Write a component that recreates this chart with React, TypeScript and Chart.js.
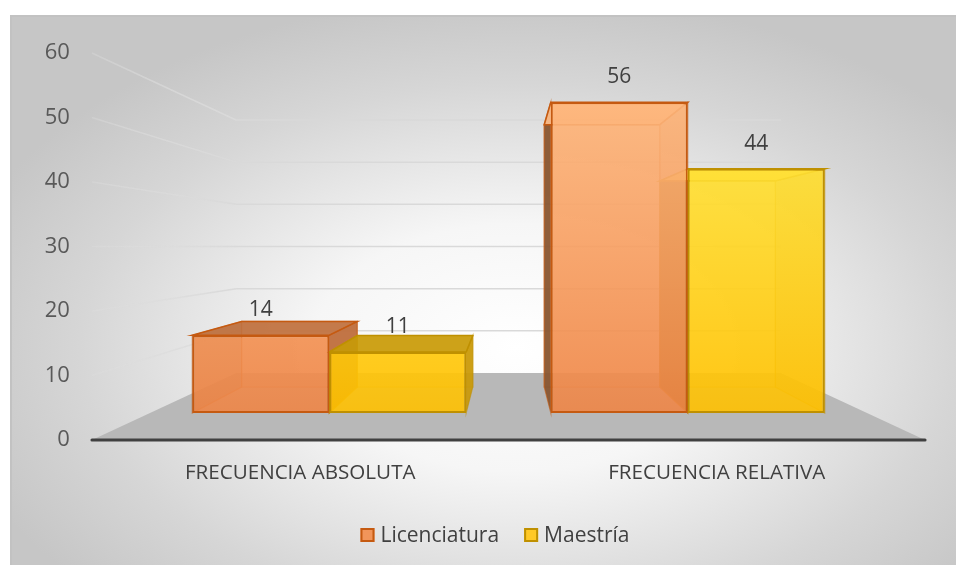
import React, { useEffect, useRef } from "react";
import { Chart, registerables } from "chart.js";
Chart.register(...registerables);

const categories = ["FRECUENCIA ABSOLUTA", "FRECUENCIA RELATIVA"];
const seriesNames = ["Licenciatura", "Maestría"];
const licenciatura = [14, 56];
const maestria = [11, 44];
const yTicks = [0, 10, 20, 30, 40, 50, 60];

const FONT = "'Open Sans', 'Noto Sans', sans-serif";
// depth factors of the 3D view (relative to the bars' front plane)
const K_FRONT = 1.162;
const K_BACK = 0.844;
const K_WALL = 0.76;

type RGB = [number, number, number];
const palette: { top: RGB; bottom: RGB; border: string; legendFill: string }[] = [
  { top: [255, 186, 128], bottom: [238, 133, 70], border: "#C55A11", legendFill: "#F1955A" },
  { top: [255, 235, 72], bottom: [255, 192, 0], border: "#BF9000", legendFill: "#FFC926" },
];

const rgba = (c: RGB, a: number) => `rgba(${c[0]},${c[1]},${c[2]},${a})`;
const mix = (c: RGB, t: RGB, f: number): RGB => [
  Math.round(c[0] + (t[0] - c[0]) * f),
  Math.round(c[1] + (t[1] - c[1]) * f),
  Math.round(c[2] + (t[2] - c[2]) * f),
];

function proj(ca: any, x: number, y: number, k: number): [number, number] {
  const vx = (ca.left + ca.right) / 2;
  const vy = (ca.top + ca.bottom) / 2;
  return [vx + k * (x - vx), vy + k * (y - vy)];
}

function poly(ctx: CanvasRenderingContext2D, pts: [number, number][]) {
  ctx.beginPath();
  ctx.moveTo(pts[0][0], pts[0][1]);
  for (let i = 1; i < pts.length; i++) ctx.lineTo(pts[i][0], pts[i][1]);
  ctx.closePath();
}

function colorAt(ca: any, c: { top: RGB; bottom: RGB }, y: number): RGB {
  const f = Math.min(1, Math.max(0, (y - ca.top) / (ca.bottom - ca.top)));
  return mix(c.top, c.bottom, f);
}

const threeD = {
  id: "threeD",
  beforeDatasetsDraw(chart: any) {
    const ctx: CanvasRenderingContext2D = chart.ctx;
    const ca = chart.chartArea;
    const ys = chart.scales.y;
    const xs = chart.scales.x;
    const y0 = ys.getPixelForValue(0);
    ctx.save();

    // walls gridlines
    ctx.lineWidth = 1.5;
    for (const v of yTicks) {
      if (v === 0) continue;
      const y = ys.getPixelForValue(v);
      const a = proj(ca, ca.left, y, K_FRONT);
      const b = proj(ca, ca.left, y, K_WALL);
      const c = proj(ca, ca.right, y, K_WALL);
      const g = ctx.createLinearGradient(a[0], a[1], b[0], b[1]);
      g.addColorStop(0, "rgba(222,222,222,0.35)");
      g.addColorStop(1, "rgba(217,217,217,1)");
      ctx.strokeStyle = g;
      ctx.beginPath();
      ctx.moveTo(a[0], a[1]);
      ctx.lineTo(b[0], b[1]);
      ctx.stroke();
      ctx.strokeStyle = "#d9d9d9";
      ctx.beginPath();
      ctx.moveTo(b[0], b[1]);
      ctx.lineTo(c[0], c[1]);
      ctx.stroke();
    }

    // floor
    const fl = proj(ca, ca.left, y0, K_FRONT);
    const fr = proj(ca, ca.right, y0, K_FRONT);
    const br = proj(ca, ca.right, y0, K_WALL);
    const bl = proj(ca, ca.left, y0, K_WALL);
    ctx.fillStyle = "#b8b8b8";
    poly(ctx, [fl, fr, br, bl]);
    ctx.fill();

    // axis line
    ctx.strokeStyle = "#404040";
    ctx.lineWidth = 3;
    ctx.lineCap = "round";
    ctx.beginPath();
    ctx.moveTo(fl[0], fl[1]);
    ctx.lineTo(fr[0], fr[1]);
    ctx.stroke();

    // y tick labels
    ctx.fillStyle = "#595959";
    ctx.font = `22px ${FONT}`;
    ctx.textAlign = "right";
    ctx.textBaseline = "middle";
    for (const v of yTicks) {
      const p = proj(ca, ca.left, ys.getPixelForValue(v), K_FRONT);
      ctx.fillText(String(v), fl[0] - 22, p[1]);
    }

    // category labels
    ctx.fillStyle = "#404040";
    ctx.font = `20.6px ${FONT}`;
    ctx.textAlign = "center";
    categories.forEach((c, i) => {
      const p = proj(ca, xs.getPixelForValue(i), y0, K_FRONT);
      ctx.fillText(c, p[0], p[1] + 33);
    });

    // bar faces except front
    const bars: any[] = [];
    chart.data.datasets.forEach((ds: any, di: number) => {
      const meta = chart.getDatasetMeta(di);
      meta.data.forEach((el: any) => {
        const p = el.getProps(["x", "y", "base", "width"], true);
        bars.push({ p, pal: palette[di] });
      });
    });
    const faces = (b: any) => {
      const { x, y, base, width } = b.p;
      const l = x - width / 2, r = x + width / 2;
      return {
        FLT: [l, y] as [number, number], FRT: [r, y] as [number, number],
        FLB: [l, base] as [number, number], FRB: [r, base] as [number, number],
        BLT: proj(ca, l, y, K_BACK), BRT: proj(ca, r, y, K_BACK),
        BLB: proj(ca, l, base, K_BACK), BRB: proj(ca, r, base, K_BACK),
        l, r, y, base,
      };
    };
    // back faces
    for (const b of bars) {
      const f = faces(b);
      const c = colorAt(ca, b.pal, (f.y + f.base) / 2);
      ctx.fillStyle = rgba(c, 0.25);
      poly(ctx, [f.BLT, f.BRT, f.BRB, f.BLB]);
      ctx.fill();
      ctx.strokeStyle = b.pal.border;
      ctx.globalAlpha = 0.45;
      ctx.lineWidth = 1.2;
      ctx.stroke();
      ctx.globalAlpha = 1;
    }
    // side faces
    const vx = (ca.left + ca.right) / 2;
    const vy = (ca.top + ca.bottom) / 2;
    for (const b of bars) {
      const f = faces(b);
      const c = colorAt(ca, b.pal, (f.y + f.base) / 2);
      // left side
      const leftVisible = f.l > vx;
      poly(ctx, [f.FLT, f.BLT, f.BLB, f.FLB]);
      ctx.fillStyle = rgba(mix(c, [40, 20, 5], 0.55), leftVisible ? 0.92 : 0.35);
      ctx.fill();
      ctx.strokeStyle = b.pal.border;
      ctx.globalAlpha = 0.6;
      ctx.lineWidth = 1.2;
      ctx.stroke();
      ctx.globalAlpha = 1;
      // right side
      const rightVisible = f.r < vx;
      poly(ctx, [f.FRT, f.BRT, f.BRB, f.FRB]);
      ctx.fillStyle = rgba(mix(c, [40, 20, 5], 0.25), rightVisible ? 0.92 : 0.35);
      ctx.fill();
      ctx.strokeStyle = b.pal.border;
      ctx.globalAlpha = 0.6;
      ctx.stroke();
      ctx.globalAlpha = 1;
    }
    // top faces
    for (const b of bars) {
      const f = faces(b);
      const c = colorAt(ca, b.pal, f.y);
      const fromAbove = f.y > vy;
      const tc = fromAbove ? mix(c, [40, 20, 5], 0.25) : mix(c, [255, 255, 255], 0.12);
      poly(ctx, [f.FLT, f.FRT, f.BRT, f.BLT]);
      ctx.fillStyle = rgba(tc, 0.92);
      ctx.fill();
      ctx.strokeStyle = b.pal.border;
      ctx.lineWidth = 1.6;
      ctx.stroke();
    }
    ctx.restore();
  },
  afterDatasetsDraw(chart: any) {
    const ctx: CanvasRenderingContext2D = chart.ctx;
    ctx.save();
    ctx.fillStyle = "#404040";
    ctx.font = `21px ${FONT}`;
    ctx.textAlign = "center";
    ctx.textBaseline = "middle";
    chart.data.datasets.forEach((ds: any, di: number) => {
      const meta = chart.getDatasetMeta(di);
      meta.data.forEach((el: any, i: number) => {
        const p = el.getProps(["x", "y"], true);
        ctx.fillText(String(ds.data[i]), p.x, p.y - 25);
      });
    });
    ctx.restore();
  },
  afterDraw(chart: any) {
    const ctx: CanvasRenderingContext2D = chart.ctx;
    ctx.save();
    ctx.font = `21px ${FONT}`;
    ctx.textBaseline = "middle";
    ctx.textAlign = "left";
    const box = 14, gapText = 6, gapItem = 25;
    const widths = seriesNames.map((n) => ctx.measureText(n).width);
    const total = widths.reduce((s, w) => s + box + gapText + w, 0) + gapItem * (seriesNames.length - 1);
    const cx = 495;
    const cy = 535;
    let x = cx - total / 2;
    seriesNames.forEach((n, i) => {
      ctx.fillStyle = palette[i].legendFill;
      ctx.fillRect(x, cy - box / 2, box, box);
      ctx.strokeStyle = palette[i].border;
      ctx.lineWidth = 2;
      ctx.strokeRect(x + 1, cy - box / 2 + 1, box - 2, box - 2);
      ctx.fillStyle = "#404040";
      ctx.fillText(n, x + box + gapText, cy + 1);
      x += box + gapText + widths[i] + gapItem;
    });
    ctx.restore();
  },
};

export default function App() {
  const ref = useRef<HTMLCanvasElement>(null);
  useEffect(() => {
    if (!ref.current) return;
    const frontFill = (i: number) => (c: any) => {
      const chart = c.chart;
      const ca = chart.chartArea;
      if (!ca) return rgba(palette[i].bottom, 0.9);
      const g = chart.ctx.createLinearGradient(0, ca.top, 0, ca.bottom);
      g.addColorStop(0, rgba(palette[i].top, 0.9));
      g.addColorStop(1, rgba(palette[i].bottom, 0.9));
      return g;
    };
    const chart = new Chart(ref.current, {
      type: "bar",
      data: {
        labels: categories,
        datasets: [
          {
            label: seriesNames[0],
            data: licenciatura,
            backgroundColor: frontFill(0),
            borderColor: palette[0].border,
            borderWidth: 2,
            borderSkipped: false,
          },
          {
            label: seriesNames[1],
            data: maestria,
            backgroundColor: frontFill(1),
            borderColor: palette[1].border,
            borderWidth: 2,
            borderSkipped: false,
          },
        ],
      },
      options: {
        responsive: false,
        animation: false,
        events: [],
        layout: { padding: { left: 150, right: 89, top: 80, bottom: 152 } },
        datasets: { bar: { categoryPercentage: 0.764, barPercentage: 1 } },
        scales: {
          x: { display: false },
          y: { display: false, min: 0, max: 60, ticks: { stepSize: 10 } },
        },
        plugins: { legend: { display: false }, tooltip: { enabled: false } },
      },
      plugins: [threeD],
    } as any);
    return () => chart.destroy();
  }, []);

  return (
    <div style={{ position: "fixed", left: 0, top: 0, width: 956, height: 565, overflow: "hidden", background: "#ffffff" }}>
      <div
        style={{
          position: "absolute",
          left: 10,
          top: 15,
          width: 970,
          height: 570,
          borderLeft: "2px solid #c2c2c2",
          borderTop: "2px solid #c2c2c2",
          background: "radial-gradient(ellipse 60% 62% at 52% 58%, #ffffff 0%, #f6f6f6 35%, #d6d6d6 75%, #c6c6c6 100%)",
        }}
      />
      <canvas ref={ref} width={956} height={565} style={{ position: "absolute", left: 0, top: 0 }} />
    </div>
  );
}
